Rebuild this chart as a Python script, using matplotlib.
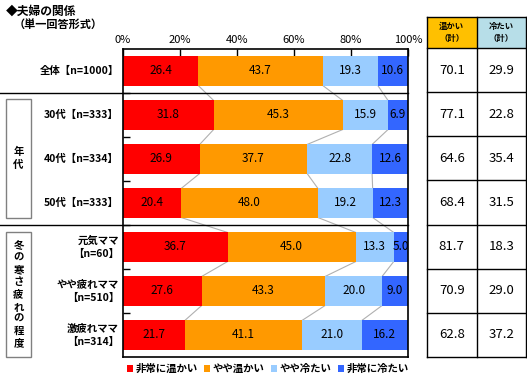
import matplotlib
matplotlib.use("Agg")
from matplotlib import pyplot as plt
from matplotlib.patches import Rectangle, Patch
import numpy as np

plt.rcParams['font.family'] = ['Noto Sans CJK JP', 'DejaVu Sans']

rows = ["全体【n=1000】", "30代【n=333】", "40代【n=334】", "50代【n=333】",
        "元気ママ\n【n=60】", "やや疲れママ\n【n=510】", "激疲れママ\n【n=314】"]
series = ["非常に温かい", "やや温かい", "やや冷たい", "非常に冷たい"]
very_warm = [26.4, 31.8, 26.9, 20.4, 36.7, 27.6, 21.7]
bit_warm = [43.7, 45.3, 37.7, 48.0, 45.0, 43.3, 41.1]
bit_cold = [19.3, 15.9, 22.8, 19.2, 13.3, 20.0, 21.0]
very_cold = [10.6, 6.9, 12.6, 12.3, 5.0, 9.0, 16.2]
warm_total = [70.1, 77.1, 64.6, 68.4, 81.7, 70.9, 62.8]
cold_total = [29.9, 22.8, 35.4, 31.5, 18.3, 29.0, 37.2]
groups = ["年代", "冬の寒さ疲れの程度"]
group_rows = [(1, 3), (4, 6)]

colors = ["#FF0000", "#FF9900", "#99CCFF", "#3366FF"]

W, H = 527, 390
fig = plt.figure(figsize=(W / 100, H / 100), dpi=100)

def box(x0, y0, x1, y1):
    # pixel box -> figure fraction rect
    return [x0 / W, 1 - y1 / H, (x1 - x0) / W, (y1 - y0) / H]

ax = fig.add_axes(box(123, 49, 408, 357))
n = len(rows)
y = np.arange(n)
vals = np.array([very_warm, bit_warm, bit_cold, very_cold])
left = np.zeros(n)
bh = 0.66
for k in range(4):
    ax.barh(y, vals[k], left=left, height=bh, color=colors[k], zorder=2)
    for i in range(n):
        ax.text(left[i] + vals[k][i] / 2, y[i], f"{vals[k][i]:.1f}",
                ha="center", va="center", fontsize=8.5, zorder=4)
    left = left + vals[k]

# series lines
cum = np.cumsum(vals, axis=0)
for k in range(3):
    for i in range(n - 1):
        ax.plot([cum[k][i], cum[k][i + 1]], [i + bh / 2, i + 1 - bh / 2],
                color="#B0B0B0", lw=0.8, zorder=1)

ax.set_xlim(0, 100)
ax.set_ylim(n - 0.5, -0.5)
ax.xaxis.tick_top()
ax.set_xticks(range(0, 101, 20))
ax.set_xticklabels([f"{t}%" for t in range(0, 101, 20)], fontsize=8)
ax.set_yticks(np.arange(0.5, n - 1, 1))
ax.set_yticklabels([])
ax.tick_params(axis="both", direction="in", length=5, width=1, pad=3)
for s in ax.spines.values():
    s.set_linewidth(1.2)

px = 100 / 285  # data units per pixel in x
x_left = -123 * px

# separators
for yb in [0.5, 3.5]:
    ax.plot([x_left, 100], [yb, yb], color="black", lw=1, clip_on=False, zorder=5)

# row labels
for i, lab in enumerate(rows):
    ax.text(-4 * px, i, lab, ha="right", va="center", fontsize=7.5,
            fontweight="bold", linespacing=1.4, clip_on=False)

# group boxes
def ypx(py):
    return (py - 49) / 44 - 0.5

for g, (a, b) in zip(groups, group_rows):
    y0 = ypx(99) if a == 1 else ypx(232)
    y1 = ypx(218) if a == 1 else ypx(357)
    ax.add_patch(Rectangle((x_left + 6 * px, y0), 25 * px, y1 - y0, fill=False,
                           edgecolor="#808080", lw=1, clip_on=False))
    cy = (y0 + y1) / 2
    step = 12.2 / 44
    for j, ch in enumerate(g):
        ax.text(x_left + 18.5 * px, cy + (j - (len(g) - 1) / 2) * step, ch,
                ha="center", va="center", fontsize=7.5, fontweight="bold",
                clip_on=False)

# title
fig.text(6 / W, 1 - 11 / H, "◆夫婦の関係", fontsize=8.5, fontweight="bold",
         va="center", ha="left")
fig.text(14 / W, 1 - 24 / H, "（単一回答形式）", fontsize=8, fontweight="bold",
         va="center", ha="left")

# right table
tab = fig.add_axes(box(427, 17, 526, 357))
hdr = 31 / 44
tab.set_xlim(0, 2)
tab.set_ylim(n - 0.5, -0.5 - hdr)
tab.axis("off")
tab.add_patch(Rectangle((0, -0.5 - hdr), 1, hdr, facecolor="#FFC000", edgecolor="none"))
tab.add_patch(Rectangle((1, -0.5 - hdr), 1, hdr, facecolor="#B7DEE8", edgecolor="none"))
tab.text(0.5, -0.5 - hdr / 2, "温かい\n（計）", ha="center", va="center",
         fontsize=6, fontweight="bold", linespacing=1.5)
tab.text(1.5, -0.5 - hdr / 2, "冷たい\n（計）", ha="center", va="center",
         fontsize=6, fontweight="bold", linespacing=1.5)
for i in range(n):
    tab.text(0.5, i, f"{warm_total[i]:.1f}", ha="center", va="center", fontsize=9.5)
    tab.text(1.5, i, f"{cold_total[i]:.1f}", ha="center", va="center", fontsize=9.5)
lines_y = [-0.5 - hdr] + list(np.arange(-0.5, n, 1))
for yy in lines_y:
    tab.plot([0, 2], [yy, yy], color="black", lw=1, clip_on=False)
for xx in [0, 1, 2]:
    tab.plot([xx, xx], [-0.5 - hdr, n - 0.5], color="black", lw=1, clip_on=False)

# legend
handles = [Patch(facecolor=c, edgecolor="none") for c in colors]
leg = fig.legend(handles, series, loc="center", bbox_to_anchor=(268 / W, 1 - 369 / H),
                 ncol=4, frameon=False, handlelength=0.6, handleheight=0.6,
                 handletextpad=0.25, columnspacing=0.6,
                 prop={"size": 7.5, "weight": "bold"})

fig.savefig("out.png", dpi=100)
